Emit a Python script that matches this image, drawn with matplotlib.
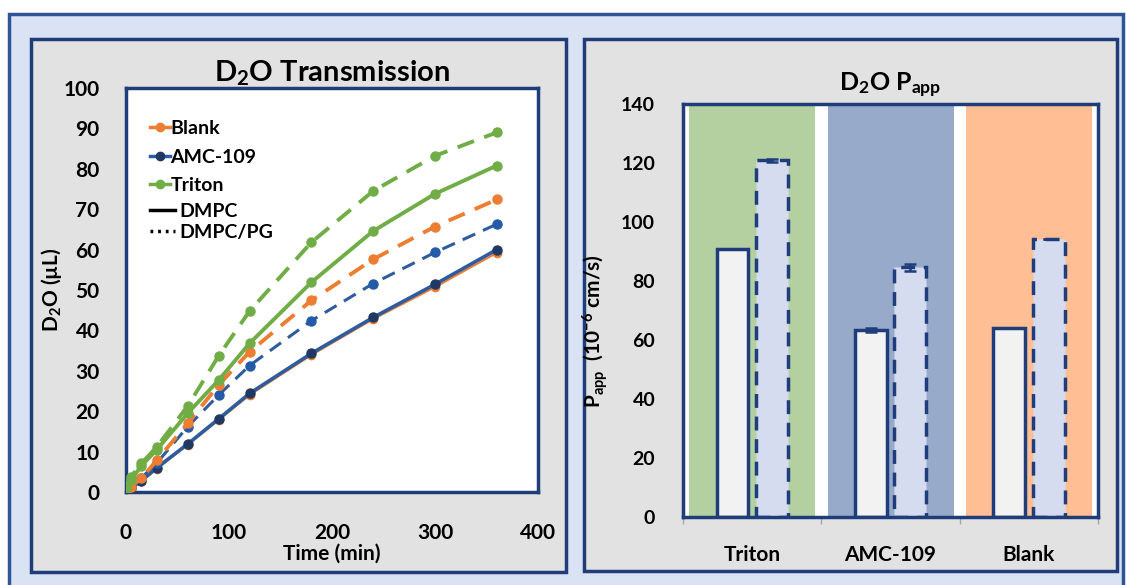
import matplotlib
matplotlib.use('Agg')
import matplotlib.pyplot as plt
from matplotlib.patches import Rectangle
from matplotlib.lines import Line2D
import numpy as np

plt.rcParams['font.family'] = ['Lato', 'DejaVu Sans']
plt.rcParams['font.weight'] = 'bold'
plt.rcParams['axes.titleweight'] = 'bold'
plt.rcParams['axes.labelweight'] = 'bold'
plt.rcParams['mathtext.fontset'] = 'custom'
plt.rcParams['mathtext.rm'] = 'Lato:bold'
plt.rcParams['mathtext.bf'] = 'Lato:bold'
plt.rcParams['mathtext.it'] = 'Lato:bold'

# time course (min) and D2O volume (uL)
times = [0, 5, 15, 30, 60, 90, 120, 180, 240, 300, 360]
blank_dmpc = [0, 0.9, 2.6, 5.7, 11.7, 17.8, 24.0, 33.9, 42.8, 50.7, 59.2]
blank_pg = [0.3, 1.3, 3.4, 7.9, 17.0, 26.5, 34.7, 47.4, 57.6, 65.7, 72.4]
amc_dmpc = [0, 1.0, 2.8, 6.0, 11.9, 18.1, 24.4, 34.3, 43.2, 51.4, 60.0]
amc_pg = [0.5, 1.5, 3.5, 7.2, 16.2, 24.0, 31.3, 42.4, 51.6, 59.3, 66.3]
triton_dmpc = [1.0, 3.0, 6.5, 10.5, 19.5, 27.7, 36.8, 51.9, 64.6, 73.8, 80.8]
triton_pg = [1.5, 3.8, 7.1, 11.2, 21.3, 33.7, 44.8, 61.8, 74.5, 83.2, 89.0]

# Papp bars (10^-6 cm/s)
categories = ['Triton', 'AMC-109', 'Blank']
papp_dmpc = [90.9, 63.4, 64.0]
papp_pg = [120.9, 84.6, 94.2]
err_dmpc = [0.0, 0.7, 0.0]
err_pg = [0.5, 1.3, 0.0]

orange = '#ed7d31'
green = '#70ad47'
blue = '#2e5c9e'
navy = '#1f3864'
edge = '#1f3d7a'

fig = plt.figure(figsize=(11.26, 5.85), dpi=100)
fig.patch.set_facecolor('white')

fig.patches.append(Rectangle((0.008, -0.05), 0.989, 1.026, transform=fig.transFigure,
                             facecolor='#dae3f3', edgecolor='#2f5597', lw=2.5, zorder=-3))
fig.patches.append(Rectangle((0.0275, 0.0222), 0.475, 0.911, transform=fig.transFigure,
                             facecolor='#e2e2e2', edgecolor=edge, lw=2.5, zorder=-2))
fig.patches.append(Rectangle((0.5187, 0.0239), 0.4734, 0.9094, transform=fig.transFigure,
                             facecolor='#e2e2e2', edgecolor=edge, lw=2.5, zorder=-2))

# ---- left: transmission curves
ax1 = fig.add_axes([0.1119, 0.159, 0.3659, 0.6906])
ax1.set_facecolor('white')
dash = (4.5, 2.8)
ax1.plot(times, blank_dmpc, color=orange, lw=1.5, marker='o', ms=6, zorder=3)
ax1.plot(times, amc_dmpc, color=blue, lw=2.6, marker='o', ms=6.5, mfc=navy, mec=navy, zorder=4)
ax1.plot(times, amc_pg, color=blue, lw=2.2, ls=(0, dash), marker='o', ms=6.5, mfc='#245aa8', mec='#245aa8', zorder=4)
ax1.plot(times, blank_pg, color=orange, lw=2.8, ls=(0, dash), marker='o', ms=6.5, zorder=5)
ax1.plot(times, triton_dmpc, color=green, lw=2.8, marker='o', ms=6.5, zorder=5)
ax1.plot(times, triton_pg, color=green, lw=2.8, ls=(0, dash), marker='o', ms=6.5, zorder=5)

ax1.set_xlim(0, 400)
ax1.set_ylim(0, 100)
ax1.set_xticks([0, 100, 200, 300, 400])
ax1.set_yticks(range(0, 101, 10))
ax1.tick_params(length=0, labelsize=15, pad=19)
ax1.tick_params(axis='x', pad=22)
for s in ax1.spines.values():
    s.set_color(edge)
    s.set_linewidth(2.5)
ax1.set_xlabel('Time (min)', fontsize=15, labelpad=1)
ax1.set_ylabel('D$_2$O (\u00b5L)', fontsize=15)
ax1.yaxis.set_label_coords(-0.15, 0.5)
ax1.set_title('D$_2$O Transmission', fontsize=21, pad=5)

h1 = [Line2D([], [], color=orange, lw=2.5, marker='o', ms=6),
      Line2D([], [], color=blue, lw=2.5, marker='o', ms=6, mfc=navy, mec=navy),
      Line2D([], [], color=green, lw=2.5, marker='o', ms=6)]
leg1 = ax1.legend(h1, ['Blank', 'AMC-109', 'Triton'], loc='upper left', bbox_to_anchor=(0.035, 0.945),
                  frameon=False, fontsize=14, handlelength=1.0, handletextpad=0.05, labelspacing=0.6,
                  borderpad=0)
ax1.add_artist(leg1)
h2 = [Line2D([], [], color='black', lw=2.5),
      Line2D([], [], color='black', lw=2.5, ls=(0, (0.8, 1.4)))]
ax1.legend(h2, ['DMPC', 'DMPC/PG'], loc='upper left', bbox_to_anchor=(0.035, 0.74),
           frameon=False, fontsize=14, handlelength=1.3, handletextpad=0.2, labelspacing=0.2,
           borderpad=0)

# ---- right: Papp bars
ax2 = fig.add_axes([0.6066, 0.1162, 0.3686, 0.706])
ax2.set_facecolor('white')
x = np.arange(len(categories))
ax2.bar(x, [140] * len(categories), width=0.91, color=['#b5d0a0', '#97aac9', '#ffbe94'], zorder=0)
w = 0.23
ax2.bar(x - 0.143, papp_dmpc, width=w, color='#f2f2f2', edgecolor=edge, lw=2.5, zorder=2,
        yerr=err_dmpc, error_kw=dict(ecolor=edge, elinewidth=1.8, capsize=4, capthick=1.8))
ax2.bar(x + 0.143, papp_pg, width=w, color='#d6dcf0', edgecolor=edge, lw=2.5, ls=(0, (4, 2.5)), zorder=2,
        yerr=err_pg, error_kw=dict(ecolor=edge, elinewidth=1.8, capsize=4, capthick=1.8))

ax2.set_xlim(-0.5, 2.5)
ax2.set_ylim(0, 140)
ax2.set_yticks(range(0, 141, 20))
ax2.set_xticks(x)
ax2.set_xticklabels(categories)
ax2.set_xticks([-0.5, 0.5, 1.5, 2.5], minor=True)
ax2.tick_params(axis='x', which='minor', length=5, color='#a6a6a6', width=1)
ax2.tick_params(axis='x', which='major', length=0, labelsize=15, pad=20)
ax2.tick_params(axis='y', length=0, labelsize=14, pad=20)
for s in ax2.spines.values():
    s.set_color(edge)
    s.set_linewidth(2.5)
ax2.set_ylabel('P$_{app}$  (10$^{-6}$ cm/s)', fontsize=15)
ax2.yaxis.set_label_coords(-0.175, 0.45)
ax2.set_title('D$_2$O P$_{app}$', fontsize=18, pad=9)

fig.savefig('out.png', dpi=100)
